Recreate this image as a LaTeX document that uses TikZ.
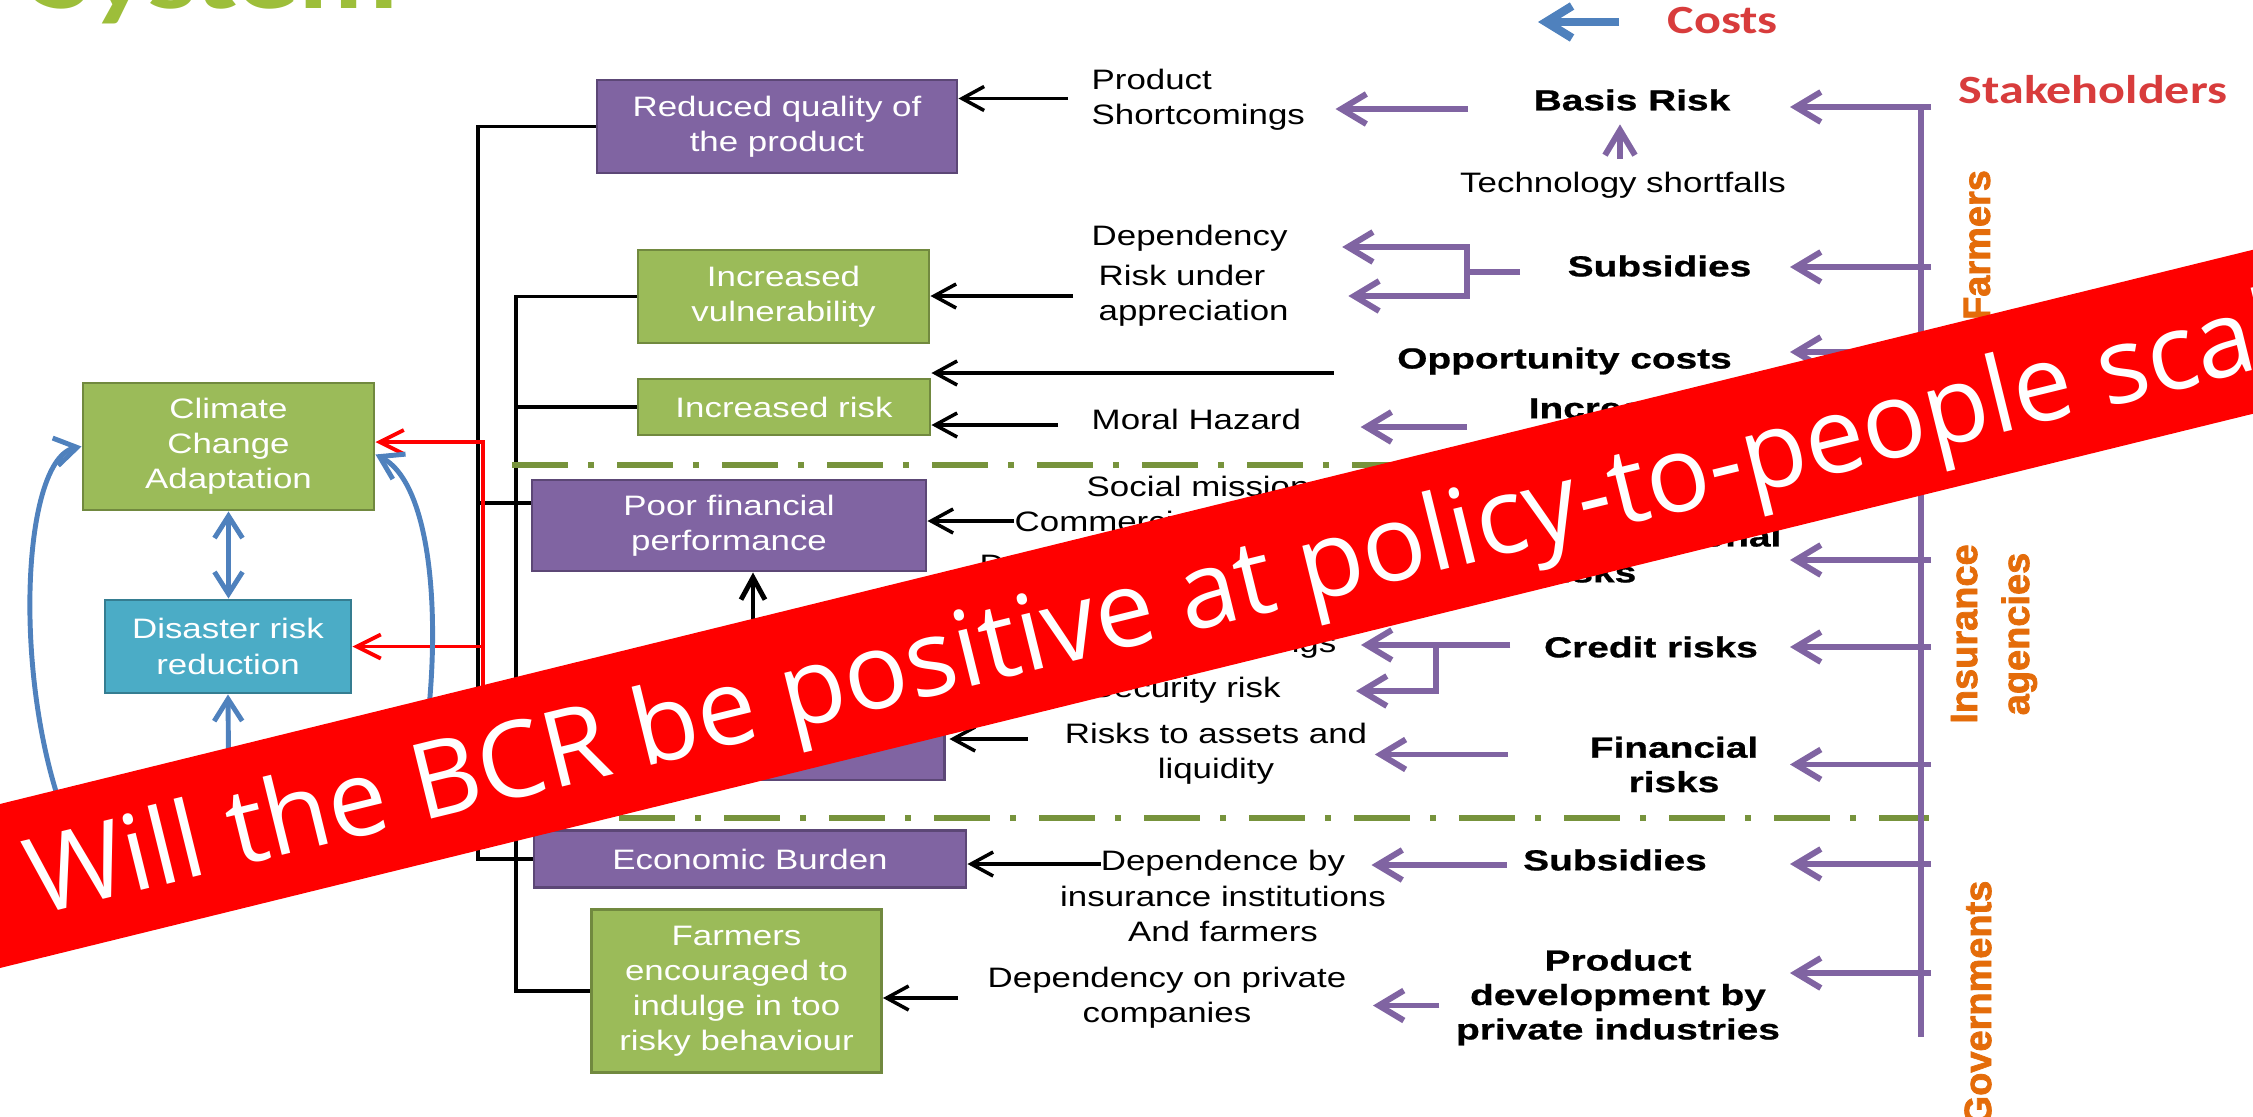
\documentclass[tikz,border=0pt]{standalone}
\usepackage{fontspec}
\setmainfont{Liberation Sans}
\newfontfamily\regfont[FakeStretch=1.24]{Liberation Sans}
\newfontfamily\costfont[FakeStretch=1.34,FakeBold=0.8]{Liberation Sans}
\newfontfamily\holderfont[FakeBold=2]{Liberation Sans}
\newfontfamily\headfont[FakeStretch=1.25]{Carlito}
\newfontfamily\bannerfont{Open Sans}
\usetikzlibrary{arrows.meta, calc}
\definecolor{boxPurple}{HTML}{8064A2}
\definecolor{boxPurpleDark}{HTML}{5C4776}
\definecolor{boxGreen}{HTML}{9BBB59}
\definecolor{boxGreenDark}{HTML}{71893F}
\definecolor{boxTeal}{HTML}{4BACC6}
\definecolor{boxTealDark}{HTML}{357D91}
\definecolor{linkPurple}{HTML}{8064A2}
\definecolor{linkBlue}{HTML}{4F81BD}
\definecolor{divGreen}{HTML}{77933C}
\definecolor{stakeOrange}{HTML}{E46C0A}
\definecolor{headRed}{HTML}{D83C3C}
\definecolor{titleGreen}{HTML}{9DBE3A}
\definecolor{bannerRed}{HTML}{FF0000}
\begin{document}
\begin{tikzpicture}[
  box/.style={draw, line width=0.85pt, text=white, align=center, inner sep=0pt, font=\regfont\fontsize{8}{10}\selectfont},
  purplebox/.style={box, fill=boxPurple, draw=boxPurpleDark},
  greenbox/.style={box, fill=boxGreen, draw=boxGreenDark},
  tealbox/.style={box, fill=boxTeal, draw=boxTealDark},
  txt/.style={inner sep=0pt, align=left, font=\regfont\fontsize{8}{10}\selectfont},
  ctxt/.style={txt, align=center},
  cost/.style={inner sep=0pt, align=center, font=\costfont\bfseries\fontsize{8.25}{9.8}\selectfont},
  holder/.style={inner sep=0pt, align=center, rotate=90, text=stakeOrange, font=\holderfont\bfseries\fontsize{10.8}{14.8}\selectfont},
  head/.style={inner sep=0pt, text=headRed, font=\headfont\bfseries\fontsize{11.4}{13}\selectfont},
  blkarr/.style={line width=1pt, -{Straight Barb[length=2.2mm,width=2.4mm]}},
  purarr/.style={draw=linkPurple, line width=1.7pt, -{Straight Barb[length=2.5mm,width=3mm]}},
  purline/.style={draw=linkPurple, line width=1.7pt},
  redarr/.style={draw=red, line width=1.1pt, -{Straight Barb[length=2.4mm,width=2.4mm]}},
  bluearr/.style={draw=linkBlue, line width=1.4pt, -{Straight Barb[length=2.2mm,width=2.8mm]}},
  legarr/.style={draw=linkBlue, line width=2.4pt, -{Straight Barb[length=2.6mm,width=3.2mm]}},
  busline/.style={line width=1pt},
  divider/.style={draw=divGreen, line width=1.7pt, dash pattern=on 5.6mm off 2mm on 0.6mm off 2.3mm}]
  \useasboundingbox (0,0) rectangle (22.53,-11.17);
  \clip (0,0) rectangle (22.53,-11.17);
  % title and legend
  \node[anchor=base west, inner sep=0pt, text=titleGreen, font=\headfont\bfseries\fontsize{28}{30}\selectfont] (title) at (0.33,-0.09) {System};
  \node[head, anchor=west] (costs) at (16.67,-0.21) {Costs};
  \coordinate (legtip) at (15.38,-0.22);
  \draw[legarr] ($(costs.west)+(-0.48,-0.01)$) -- (legtip);
  \node[head, anchor=west] (stake) at (19.58,-0.90) {Stakeholders};
  % effect boxes
  \node[purplebox, minimum width=3.60cm, minimum height=0.93cm] (rq) at (7.77,-1.265) {Reduced quality of\\the product};
  \node[greenbox, minimum width=2.91cm, minimum height=0.93cm] (iv) at (7.835,-2.965) {Increased\\vulnerability};
  \node[greenbox, minimum width=2.92cm, minimum height=0.56cm] (ir) at (7.84,-4.07) {Increased risk};
  \node[purplebox, minimum width=3.94cm, minimum height=0.91cm] (pf) at (7.29,-5.255) {Poor financial\\performance};
  \node[purplebox, minimum width=3.96cm, minimum height=0.92cm] (pfsrc) at (7.46,-7.34) {};
  \node[purplebox, minimum width=4.32cm, minimum height=0.57cm] (eb) at (7.50,-8.59) {Economic Burden};
  \node[greenbox, minimum width=2.90cm, minimum height=1.63cm] (fe) at (7.365,-9.91) {Farmers\\encouraged to\\indulge in too\\risky behaviour};
  \node[greenbox, minimum width=2.91cm, minimum height=1.27cm] (cca) at (2.285,-4.465) {Climate\\Change\\Adaptation};
  \node[tealbox, minimum width=2.46cm, minimum height=0.93cm] (drr) at (2.28,-6.465) {Disaster risk\\reduction};
  % black buses
  \coordinate (outerx) at (4.78,0);
  \coordinate (innerx) at (5.16,0);
  \draw[busline] (rq.west) -- (rq.west -| outerx) |- (eb.west);
  \draw[busline] ([yshift=0.225cm]pf.west) -- ([yshift=0.225cm]pf.west -| outerx);
  \draw[busline] (iv.west) -- (iv.west -| innerx) |- (fe.west);
  \draw[busline] (ir.west) -- (ir.west -| innerx);
  % red links
  \coordinate (redtop) at (4.83,-4.42);
  \coordinate (redbot) at (4.83,-8.00);
  \draw[redarr] (redbot) -- (redtop) -- (redtop -| cca.east);
  \draw[redarr] (drr.east -| redtop) -- (drr.east);
  % blue loop
  \coordinate (bluebot) at (2.29,-8.20);
  \coordinate (loopl) at (0.90,-8.70);
  \coordinate (loopr) at (4.05,-8.40);
  \draw[bluearr] (bluebot) -- (drr.south);
  \draw[bluearr, {Straight Barb[length=2.2mm,width=2.8mm]}-{Straight Barb[length=2.2mm,width=2.8mm]}] (cca.south) -- (cca.south |- drr.north);
  \draw[bluearr] (loopl) .. controls (0.10,-7.40) and (0.15,-4.60) .. (cca.west);
  \draw[bluearr] (loopr) .. controls (4.45,-7.00) and (4.45,-4.90) .. ([yshift=-0.08cm]cca.east);
  % dividers
  \draw[divider] (5.12,-4.65) -- (19.29,-4.65);
  \draw[divider] (5.14,-8.18) -- (19.29,-8.18);
  % stakeholder bus
  \coordinate (busr) at (19.31,0);
  \coordinate (tipx) at (17.90,0);
  \draw[purline] (19.21,-1.07) -- (19.21,-10.37);
  % cost labels
  \node[cost] (basis) at (16.32,-1.00) {Basis Risk};
  \node[txt] (tech) at (16.23,-1.85) {Technology shortfalls};
  \node[cost] (subsF) at (16.595,-2.66) {Subsidies};
  \node[cost] (opp) at (15.645,-3.61) {Opportunity costs};
  \node[cost, anchor=west] (incr) at (15.28,-4.08) {Increased risks};
  \node[cost, anchor=east] (oper1) at (17.82,-5.39) {Operational};
  \node[cost, anchor=east] (oper2) at (16.37,-5.72) {risks};
  \node[cost] (credit) at (16.51,-6.47) {Credit risks};
  \node[cost] (fin) at (16.74,-7.645) {Financial\\risks};
  \node[cost] (subsG) at (16.15,-8.60) {Subsidies};
  \node[cost] (proddev) at (16.18,-9.975) {Product\\development by\\private industries};
  % causes
  \node[txt, anchor=west] (shortc) at (10.91,-0.995) {Product\\Shortcomings};
  \node[txt, anchor=west] (dep) at (10.91,-2.38) {Dependency};
  \node[txt, anchor=west] (riskua) at (10.98,-2.96) {Risk under\\appreciation};
  \node[txt, anchor=west] (moral) at (10.91,-4.19) {Moral Hazard};
  \node[txt, anchor=west] (social) at (10.86,-4.86) {Social mission};
  \node[txt, anchor=west] (commer) at (10.14,-5.21) {Commercial};
  \node[txt, anchor=west] (dfrag) at (9.79,-5.65) {D};
  \node[txt, anchor=base east] (ngs) at (13.37,-6.52) {Savings};
  \node[txt, anchor=west] (secur) at (10.90,-6.90) {Security risk};
  \node[ctxt] (assets) at (12.16,-7.54) {Risks to assets and\\liquidity};
  \node[ctxt] (depby) at (12.23,-8.96) {Dependence by\\insurance institutions\\And farmers};
  \node[ctxt] (deppriv) at (11.67,-9.98) {Dependency on private\\companies};
  % stakeholders
  \node[holder] (farmers) at (19.77,-2.45) {Farmers};
  \node[holder] (insur) at (19.94,-6.34) {Insurance\\agencies};
  \node[holder] (govt) at (19.78,-10.03) {Governments};
  % bus arrows
  \foreach \lbl/\dy in {basis/-0.07, subsF/-0.01, opp/0.09, incr/-0.02, oper1/-0.21, credit/0, fin/0, subsG/-0.04, proddev/0.245}
    \draw[purarr] ($(\lbl.east -| busr)+(0,\dy)$) -- ($(\lbl.east -| tipx)+(0,\dy)$);
  % cost to cause
  \draw[purarr] ($(basis.west)+(-0.65,-0.09)$) -- ($(basis.west -| shortc.east)+(0.30,-0.09)$);
  \draw[purarr] ($(tech.north)+(-0.03,0.12)$) -- ($(tech.north |- basis.south)+(-0.03,-0.13)$);
  \coordinate (subsbrk) at ($(subsF.west)+(-1.00,-0.06)$);
  \draw[purline] ($(subsF.west)+(-0.47,-0.06)$) -- (subsbrk);
  \draw[purarr] (subsbrk) |- ($(dep.east)+(0.54,-0.09)$);
  \draw[purarr] (subsbrk) |- ($(riskua.east)+(0.59,0)$);
  \draw[purarr] ($(incr.west)+(-0.61,-0.19)$) -- ($(incr.west -| moral.east)+(0.59,-0.19)$);
  \coordinate (credbrk) at ($(credit.west)+(-1.07,0.02)$);
  \draw[purarr] ($(credit.west)+(-0.33,0.02)$) -- ($(credit.west -| ngs.east)+(0.24,0.02)$);
  \draw[purarr] (credbrk) |- ($(secur.east -| ngs.east)+(0.19,-0.01)$);
  \draw[purarr] ($(fin.west)+(-0.81,0.10)$) -- ($(fin.west -| assets.east)+(0.07,0.10)$);
  \draw[purarr] ($(subsG.west)+(-0.16,-0.05)$) -- ($(subsG.west -| depby.east)+(-0.15,-0.05)$);
  \draw[purarr] ($(proddev.west)+(-0.16,-0.08)$) -- ($(proddev.west -| deppriv.east)+(0.26,-0.08)$);
  % cause to effect
  \draw[blkarr] ($(shortc.west)+(-0.23,0.01)$) -- ($(shortc.west -| rq.east)+(0,0.01)$);
  \draw[blkarr] ($(riskua.west)+(-0.25,0)$) -- (riskua.west -| iv.east);
  \draw[blkarr] ($(opp.west)+(-0.63,-0.12)$) -- ($(opp.west -| ir.east)+(0,-0.12)$);
  \draw[blkarr] ($(moral.west)+(-0.33,-0.06)$) -- ($(moral.west -| ir.east)+(0,-0.06)$);
  \draw[blkarr] (commer.west) -- (commer.west -| pf.east);
  \coordinate (pfup) at ($(pfsrc.north)+(0.07,0)$);
  \draw[blkarr, line width=1.4pt] (pfup) -- (pfup |- pf.south);
  \draw[blkarr] ($(assets.west)+(-0.36,0.15)$) -- ($(assets.west -| pfsrc.east)+(0.04,0.15)$);
  \draw[blkarr] ($(depby.west)+(0.41,0.32)$) -- ($(depby.west -| eb.east)+(0,0.32)$);
  \draw[blkarr] ($(deppriv.west)+(-0.29,0)$) -- (deppriv.west -| fe.east);
  % banner
  \fill[bannerRed] (-1,-8.286) -- (23.5,-2.259) -- (23.5,-3.899) -- (-1,-9.926) -- cycle;
  \node[rotate=13.82, anchor=base west, inner sep=0pt, text=white, font=\bannerfont\fontsize{30.1}{32}\selectfont] (banner) at (0.37,-9.16) {Will the BCR be positive at policy-to-people scale};
\end{tikzpicture}
\end{document}
